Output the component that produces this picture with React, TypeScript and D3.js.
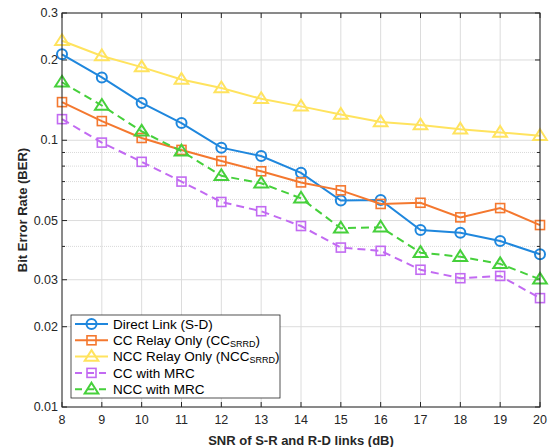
import { useEffect, useRef } from "react";
import * as d3 from "d3";

const snr = [8, 9, 10, 11, 12, 13, 14, 15, 16, 17, 18, 19, 20];
const direct = [0.21, 0.172, 0.138, 0.116, 0.0938, 0.0873, 0.0755, 0.0594, 0.0597, 0.0461, 0.045, 0.0419, 0.0374];
const ccRelay = [0.139, 0.118, 0.102, 0.092, 0.0836, 0.0765, 0.0695, 0.0649, 0.0577, 0.0583, 0.0514, 0.0557, 0.0481];
const nccRelay = [0.236, 0.207, 0.188, 0.169, 0.157, 0.143, 0.134, 0.125, 0.117, 0.114, 0.11, 0.107, 0.104];
const ccMrc = [0.12, 0.098, 0.083, 0.07, 0.0587, 0.0542, 0.0477, 0.0396, 0.0385, 0.0327, 0.0304, 0.031, 0.0256];
const nccMrc = [0.165, 0.135, 0.108, 0.091, 0.0736, 0.069, 0.0606, 0.0468, 0.0472, 0.0379, 0.0366, 0.0344, 0.0301];

const yTicks = [0.01, 0.02, 0.03, 0.05, 0.1, 0.2, 0.3];
const yMinor = [0.04, 0.06, 0.07, 0.08, 0.09];

const series = [
  { name: "Direct Link (S-D)", sub: "", tail: "", values: direct, color: "#1f87dd", marker: "circle", dashed: false },
  { name: "CC Relay Only (CC", sub: "SRRD", tail: ")", values: ccRelay, color: "#f4782f", marker: "square", dashed: false },
  { name: "NCC Relay Only (NCC", sub: "SRRD", tail: ")", values: nccRelay, color: "#ffe35e", marker: "triangle", dashed: false },
  { name: "CC with MRC", sub: "", tail: "", values: ccMrc, color: "#c26af2", marker: "square", dashed: true },
  { name: "NCC with MRC", sub: "", tail: "", values: nccMrc, color: "#46d03b", marker: "triangle", dashed: true },
];

const W = 553;
const H = 447;
const margin = { top: 13, right: 13, bottom: 40, left: 62 };
const font = "'Liberation Sans', Arial, Helvetica, sans-serif";

function drawMarker(g: any, type: string, x: number, y: number, color: string) {
  if (type === "circle") {
    g.append("circle").attr("cx", x).attr("cy", y).attr("r", 5)
      .attr("fill", "none").attr("stroke", color).attr("stroke-width", 2);
  } else if (type === "square") {
    g.append("rect").attr("x", x - 4.5).attr("y", y - 4.5).attr("width", 9).attr("height", 9)
      .attr("fill", "none").attr("stroke", color).attr("stroke-width", 1.6);
  } else {
    const s = 6.5;
    g.append("path")
      .attr("d", `M${x},${y - s}L${x + s * 1.05},${y + s * 0.65}L${x - s * 1.05},${y + s * 0.65}Z`)
      .attr("fill", "none").attr("stroke", color).attr("stroke-width", 2);
  }
}

export default function App() {
  const ref = useRef<SVGSVGElement>(null);

  useEffect(() => {
    document.body.style.margin = "0";
    const svg = d3.select(ref.current);
    svg.selectAll("*").remove();

    const x = d3.scaleLinear().domain([8, 20]).range([margin.left, W - margin.right]);
    const y = d3.scaleLog().domain([0.01, 0.3]).range([H - margin.bottom, margin.top]);
    const x0 = margin.left, x1 = W - margin.right, y0 = margin.top, y1 = H - margin.bottom;

    svg.append("rect").attr("x", 0).attr("y", 0).attr("width", W).attr("height", H).attr("fill", "#fff");

    const grid = svg.append("g");
    // minor grid
    yMinor.forEach((v) => {
      grid.append("line").attr("x1", x0).attr("x2", x1).attr("y1", y(v)).attr("y2", y(v))
        .attr("stroke", "#cfcfcf").attr("stroke-width", 0.8).attr("stroke-dasharray", "1,1");
    });
    // major grid
    snr.forEach((v) => {
      grid.append("line").attr("x1", x(v)).attr("x2", x(v)).attr("y1", y0).attr("y2", y1)
        .attr("stroke", "#dcdcdc").attr("stroke-width", 1);
    });
    yTicks.forEach((v) => {
      grid.append("line").attr("x1", x0).attr("x2", x1).attr("y1", y(v)).attr("y2", y(v))
        .attr("stroke", "#dcdcdc").attr("stroke-width", 1);
    });

    // ticks (inward)
    const tk = svg.append("g").attr("stroke", "#262626").attr("stroke-width", 1);
    snr.forEach((v) => {
      tk.append("line").attr("x1", x(v)).attr("x2", x(v)).attr("y1", y1).attr("y2", y1 - 5);
      tk.append("line").attr("x1", x(v)).attr("x2", x(v)).attr("y1", y0).attr("y2", y0 + 5);
    });
    yTicks.concat(yMinor).forEach((v) => {
      const len = yMinor.includes(v) ? 3 : 5;
      tk.append("line").attr("x1", x0).attr("x2", x0 + len).attr("y1", y(v)).attr("y2", y(v));
      tk.append("line").attr("x1", x1).attr("x2", x1 - len).attr("y1", y(v)).attr("y2", y(v));
    });

    // series
    const line = d3.line<number>().x((d, i) => x(snr[i])).y((d) => y(d));
    series.forEach((s) => {
      const g = svg.append("g");
      g.append("path").attr("d", line(s.values)).attr("fill", "none")
        .attr("stroke", s.color).attr("stroke-width", 2)
        .attr("stroke-dasharray", s.dashed ? "8,5" : null);
      s.values.forEach((v, i) => drawMarker(g, s.marker, x(snr[i]), y(v), s.color));
    });

    // box
    svg.append("rect").attr("x", x0).attr("y", y0).attr("width", x1 - x0).attr("height", y1 - y0)
      .attr("fill", "none").attr("stroke", "#262626").attr("stroke-width", 1);

    // tick labels
    snr.forEach((v) => {
      svg.append("text").attr("x", x(v)).attr("y", y1 + 17).attr("text-anchor", "middle")
        .attr("font-family", font).attr("font-size", 12.5).attr("fill", "#262626").text(v);
    });
    yTicks.forEach((v) => {
      svg.append("text").attr("x", x0 - 4).attr("y", y(v) + 4).attr("text-anchor", "end")
        .attr("font-family", font).attr("font-size", 12.5).attr("fill", "#262626").text(String(v));
    });

    // axis labels
    svg.append("text").attr("x", (x0 + x1) / 2).attr("y", y1 + 38).attr("text-anchor", "middle")
      .attr("font-family", font).attr("font-size", 13).attr("font-weight", "bold").attr("fill", "#262626")
      .text("SNR of S-R and R-D links (dB)");
    svg.append("text").attr("transform", `translate(27,${(y0 + y1) / 2}) rotate(-90)`)
      .attr("text-anchor", "middle").attr("font-family", font).attr("font-size", 13)
      .attr("font-weight", "bold").attr("fill", "#262626").text("Bit Error Rate (BER)");

    // legend
    const lg = svg.append("g");
    lg.append("rect").attr("x", 71).attr("y", 315).attr("width", 209).attr("height", 83)
      .attr("fill", "#fff").attr("stroke", "#262626").attr("stroke-width", 0.8);
    series.forEach((s, i) => {
      const ly = 324 + i * 16.3;
      lg.append("line").attr("x1", 75).attr("x2", 108).attr("y1", ly).attr("y2", ly)
        .attr("stroke", s.color).attr("stroke-width", 2)
        .attr("stroke-dasharray", s.dashed ? "7,5" : null);
      drawMarker(lg, s.marker, 91.5, ly, s.color);
      const t = lg.append("text").attr("x", 113).attr("y", ly + 4.8)
        .attr("font-family", font).attr("font-size", 13.5).attr("fill", "#000");
      t.append("tspan").text(s.name);
      if (s.sub) {
        t.append("tspan").attr("font-size", 9).attr("dy", 2).text(s.sub);
        t.append("tspan").attr("dy", -2).text(s.tail);
      }
    });
  }, []);

  return <svg ref={ref} width={W} height={H} style={{ display: "block" }} />;
}
